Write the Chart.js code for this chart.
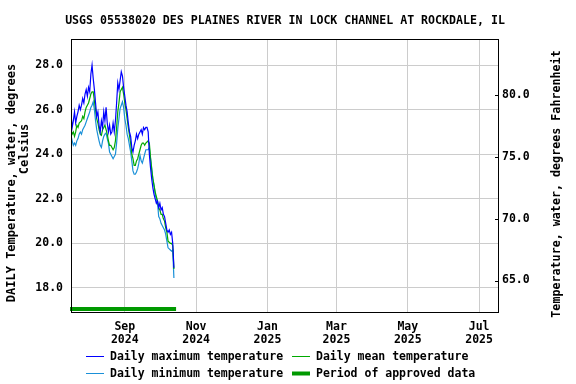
<!DOCTYPE html>
<html>
<head>
<meta charset="utf-8">
<script src="https://cdn.jsdelivr.net/npm/chart.js@4.4.1/dist/chart.umd.min.js"></script>
<style>
    html, body { margin: 0; padding: 0; background: #fff; }
    #wrap { width: 576px; height: 384px; }
</style>
</head>
<body>
<div id="wrap"><canvas id="tempChart" width="576" height="384"></canvas></div>
<script>
// Daily water temperature, deg C, one value per day from startDate
const chartTitle = 'USGS 05538020 DES PLAINES RIVER IN LOCK CHANNEL AT ROCKDALE, IL';
const startDate = '2024-07-17';
const endDate = '2025-07-18';

const maxTemp = [
    25.8, 25.2, 25.5, 25.9, 25.4, 25.7, 25.9, 26.2, 26.0, 26.2,
    26.5, 26.3, 26.7, 26.9, 26.6, 27.0, 26.8, 27.6, 28.0, 27.4,
    26.9, 26.3, 25.7, 25.9, 25.3, 25.0, 25.5, 25.2, 25.9, 25.5,
    26.1, 25.4, 25.0, 25.3, 24.9, 25.0, 25.4, 25.0, 25.5, 26.3,
    27.2, 26.9, 27.3, 27.7, 27.5, 27.0, 26.6, 26.2, 25.9, 25.4,
    25.0, 24.8, 24.3, 24.1, 24.4, 24.6, 24.9, 24.7, 24.9, 25.0,
    25.1, 24.9, 25.2, 25.1, 25.2, 25.2, 25.0, 24.0, 23.4, 22.9,
    22.5, 22.2, 22.0, 21.8, 21.9, 21.6, 21.8, 21.5, 21.6, 21.3,
    21.2, 20.9, 20.6, 20.5, 20.6, 20.4, 20.5, 20.0, 18.9
];
const meanTemp = [
    25.1, 24.9, 25.0, 24.8, 25.0, 25.3, 25.2, 25.4, 25.45, 25.5,
    25.7, 25.6, 25.9, 26.1, 26.2, 26.3, 26.5, 26.7, 26.8, 26.8,
    26.4, 26.0, 25.6, 25.4, 25.1, 24.9, 24.85, 25.1, 25.2, 25.3,
    25.1, 24.9, 24.6, 24.4, 24.4, 24.3, 24.2, 24.3, 24.6, 25.2,
    25.9, 26.3, 26.8, 26.9, 27.0, 26.7, 26.3, 26.0, 25.6, 25.2,
    24.85, 24.5, 24.0, 23.8, 23.5, 23.5, 23.7, 23.8, 24.0, 24.2,
    24.4, 24.5, 24.5, 24.4, 24.5, 24.55, 24.6, 24.5, 23.85, 23.3,
    22.9, 22.6, 22.3, 22.1, 21.9, 21.6, 21.5, 21.3, 21.3, 21.1,
    21.0, 20.7, 20.5, 20.1, 20.05, 20.0, 20.0, 19.9, 18.85
];
const minTemp = [
    24.85, 24.6, 24.4, 24.5, 24.4, 24.6, 24.7, 24.9, 25.0, 24.9,
    25.1, 25.2, 25.3, 25.45, 25.6, 25.75, 25.9, 26.1, 26.2, 26.35,
    26.0, 25.5, 25.1, 24.85, 24.6, 24.4, 24.3, 24.6, 24.8, 24.9,
    24.95, 24.7, 24.5, 24.1, 24.0, 23.9, 23.8, 23.9, 24.0, 24.5,
    25.15, 25.6, 26.05, 26.2, 26.35, 26.1, 25.6, 25.3, 24.9, 24.7,
    24.4, 24.1, 23.7, 23.25, 23.1, 23.1, 23.2, 23.35, 23.6, 23.95,
    23.7, 23.6, 23.8, 24.0, 24.2, 24.2, 24.2, 24.3, 23.8, 23.4,
    22.9, 22.6, 22.2, 22.0, 21.8, 21.2, 21.1, 20.9, 20.8, 20.7,
    20.6, 20.4, 20.1, 19.8, 19.75, 19.7, 19.65, 19.7, 18.45
];

const monthTicks = ['2024-09-01', '2024-11-01', '2025-01-01', '2025-03-01', '2025-05-01', '2025-07-01'];
const monthLabels = [['Sep', '2024'], ['Nov', '2024'], ['Jan', '2025'], ['Mar', '2025'], ['May', '2025'], ['Jul', '2025']];
const celsiusTicks = [18, 20, 22, 24, 26, 28];
const fahrenheitTicks = [65, 70, 75, 80];
const approvedPeriod = ['2024-07-17', '2024-10-14'];

const seriesNames = ['Daily maximum temperature', 'Daily mean temperature', 'Daily minimum temperature', 'Period of approved data'];
const seriesColors = ['#0000ff', '#00aa00', '#1a90d8', '#009900'];

const yLabelC = ['DAILY Temperature, water, degrees', 'Celsius'];
const yLabelF = 'Temperature, water, degrees Fahrenheit';

const cMin = 16.92, cMax = 29.17;
const toF = c => c * 1.8 + 32;

const dayOf = s => (Date.parse(s + 'T00:00:00Z') - Date.parse(startDate + 'T00:00:00Z')) / 86400000;
const toPoints = arr => arr.map((v, i) => ({ x: i, y: v }));

const FONT = '"DejaVu Sans Mono", monospace';
const tickFont = { family: FONT, size: 11.5, weight: 'bold', lineHeight: 1.15 };

// title, frame, axis titles, approved bar and legend
const decorations = {
    id: 'decorations',
    afterDraw(chart) {
        const { ctx, chartArea: a, scales } = chart;
        ctx.save();

        const x0 = scales.x.getPixelForValue(dayOf(approvedPeriod[0]));
        const x1 = scales.x.getPixelForValue(dayOf(approvedPeriod[1]));
        ctx.strokeStyle = seriesColors[3];
        ctx.lineWidth = 4;
        ctx.beginPath();
        ctx.moveTo(x0 - 1, a.bottom - 3);
        ctx.lineTo(x1 + 1, a.bottom - 3);
        ctx.stroke();

        ctx.strokeStyle = '#000';
        ctx.lineWidth = 1;
        ctx.strokeRect(a.left + 0.5, a.top + 0.5, a.right - a.left - 1, a.bottom - a.top);
        fahrenheitTicks.forEach(f => {
            const y = Math.round(scales.yF.getPixelForValue(f)) + 0.5;
            ctx.beginPath();
            ctx.moveTo(a.right - 4, y);
            ctx.lineTo(a.right, y);
            ctx.stroke();
        });

        ctx.fillStyle = '#000';
        ctx.font = 'bold 11.6px ' + FONT;
        ctx.textAlign = 'center';
        ctx.textBaseline = 'middle';
        ctx.fillText(chartTitle, 285, 20.5);

        // rotated axis titles: [x, centre y, font size, text]
        [[12, 183, 12, yLabelC[0]], [25, 149, 12, yLabelC[1]], [557, 184, 11.7, yLabelF]].forEach(([x, y, size, t]) => {
            ctx.save();
            ctx.font = 'bold ' + size + 'px ' + FONT;
            ctx.translate(x, y);
            ctx.rotate(-Math.PI / 2);
            ctx.fillText(t, 0, 0);
            ctx.restore();
        });

        ctx.font = 'bold 11.5px ' + FONT;
        const slots = [[86, 356], [292, 356], [86, 373], [292, 373]];
        ctx.textAlign = 'left';
        slots.forEach(([x, y], i) => {
            ctx.strokeStyle = seriesColors[i];
            ctx.lineWidth = i === 3 ? 4 : 1;
            ctx.beginPath();
            ctx.moveTo(x, y + 0.5);
            ctx.lineTo(x + 18, y + 0.5);
            ctx.stroke();
            ctx.fillText(seriesNames[i], x + 24, y + 1);
        });
        ctx.restore();
    }
};

new Chart(document.getElementById('tempChart'), {
    type: 'line',
    data: {
        datasets: [
            { label: seriesNames[0], data: toPoints(maxTemp), borderColor: seriesColors[0] },
            { label: seriesNames[1], data: toPoints(meanTemp), borderColor: seriesColors[1] },
            { label: seriesNames[2], data: toPoints(minTemp), borderColor: seriesColors[2] }
        ].map(d => ({ ...d, borderWidth: 1.2, pointRadius: 0, tension: 0, fill: false, yAxisID: 'y' }))
    },
    options: {
        responsive: false,
        animation: false,
        devicePixelRatio: 1,
        layout: { padding: { top: 39, left: 0, right: 0, bottom: 0 } },
        plugins: { legend: { display: false }, tooltip: { enabled: false } },
        scales: {
            x: {
                type: 'linear',
                min: 0,
                max: dayOf(endDate),
                afterFit: s => { s.height = 72; },
                afterBuildTicks: s => { s.ticks = monthTicks.map(d => ({ value: dayOf(d) })); },
                grid: { color: '#cccccc', drawTicks: false },
                border: { display: false },
                ticks: {
                    autoSkip: false,
                    maxRotation: 0,
                    padding: 8,
                    color: '#000',
                    font: tickFont,
                    callback: v => {
                        const i = monthTicks.findIndex(d => dayOf(d) === v);
                        return i >= 0 ? monthLabels[i] : '';
                    }
                }
            },
            y: {
                position: 'left',
                min: cMin,
                max: cMax,
                afterFit: s => { s.width = 71; },
                afterBuildTicks: s => { s.ticks = celsiusTicks.map(v => ({ value: v })); },
                grid: { color: '#cccccc', drawTicks: false },
                border: { display: false },
                ticks: { padding: 8, color: '#000', font: tickFont, callback: v => v.toFixed(1) }
            },
            yF: {
                position: 'right',
                min: toF(cMin),
                max: toF(cMax),
                afterFit: s => { s.width = 77; },
                afterBuildTicks: s => { s.ticks = fahrenheitTicks.map(v => ({ value: v })); },
                grid: { drawOnChartArea: false, drawTicks: false },
                border: { display: false },
                ticks: { padding: 3, color: '#000', font: tickFont, callback: v => v.toFixed(1) }
            }
        }
    },
    plugins: [decorations]
});
</script>
</body>
</html>
